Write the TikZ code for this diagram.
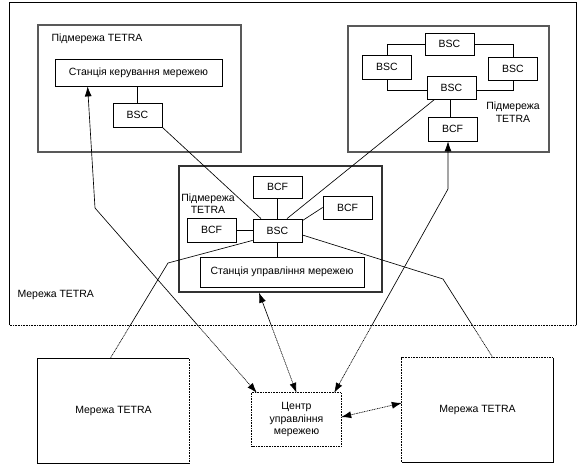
\documentclass[tikz,border=0pt]{standalone}
\usepackage{fontspec}
\setmainfont{Liberation Sans}
\usetikzlibrary{arrows.meta,calc}
\begin{document}
\begin{tikzpicture}[x=1pt,y=-1pt,
  font=\fontsize{10.5}{12.5}\selectfont,
  arr/.style={{Latex[length=10pt,width=7pt]}-{Latex[length=10pt,width=7pt]}},
  bx/.style={draw=black, line width=0.8pt, rectangle, inner sep=0pt},
  sbx/.style={bx, minimum width=49pt, minimum height=23pt},
  subnet/.style={draw=#1, line width=1.4pt, rectangle, inner sep=0pt},
  plain/.style={rectangle, inner sep=0pt},
  edge/.style={line width=0.8pt, black},
  dotedge/.style={line width=0.8pt, black, dash pattern=on 0.8pt off 0.8pt},
  wire/.style={line width=0.65pt, black},
  conn/.style={wire}
]
\useasboundingbox (0,0) rectangle (581,467);

% outer network
\node[plain, minimum width=566pt, minimum height=322pt] (outer) at (293,164) {};
\draw[edge] (outer.south west) -- (outer.north west) -- (outer.north east) -- (outer.south east);
\draw[dotedge] (outer.south west) -- (outer.south east);
\node[anchor=west] (outerlab) at (14,295) {Мережа TETRA};

% top-left subnet
\node[subnet=gray!70!black, minimum width=203pt, minimum height=127pt] (sub1) at (139.5,88.5) {};
\node[anchor=west] (sub1lab) at (48,39) {Підмережа TETRA};
\node[bx, minimum width=167pt, minimum height=27pt] (nsk) at (138.5,72.5) {Станція керування мережею};
\node[sbx, minimum height=24pt] (bsc1) at (137.5,115) {BSC};

% top-right subnet
\node[subnet=gray!70!black, minimum width=201pt, minimum height=126pt] (sub2) at (448.5,89) {};
\node[sbx, minimum height=22pt] (bscT) at (449.5,44) {BSC};
\node[sbx, minimum height=24pt] (bscL) at (387,67) {BSC};
\node[sbx] (bscR) at (513,68.5) {BSC};
\node[sbx] (bscM) at (451.5,87.5) {BSC};
\node[sbx, minimum height=24pt] (bcfT) at (452.5,129) {BCF};
\node[align=center, inner sep=0pt] (sub2lab) at (513,112) {Підмережа\\TETRA};

% central subnet
\node[subnet=black!80, minimum width=203pt, minimum height=126pt] (sub3) at (280.5,229) {};
\node[sbx, minimum height=22pt] (bcfC1) at (277.5,187) {BCF};
\node[sbx] (bcfC2) at (347.5,207.5) {BCF};
\node[sbx, minimum height=24pt] (bcfC3) at (211.5,230) {BCF};
\node[sbx] (bscC) at (277.5,230.5) {BSC};
\node[bx, minimum width=164pt, minimum height=30pt] (nsu) at (282,272) {Станція управління мережею};
\node[align=center, inner sep=0pt] (sub3lab) at (208,203.5) {Підмережа\\TETRA};

% bottom networks
\node[plain, minimum width=151pt, minimum height=104pt] (netL) at (113.5,411) {Мережа TETRA};
\draw[edge] (netL.north east) -- (netL.north west) -- (netL.south west) -- (netL.south east);
\draw[dotedge] (netL.north east) -- (netL.south east);

\node[plain, minimum width=89pt, minimum height=53pt, align=center] (ctr) at (296.5,419.5) {Центр\\управління\\мережею};
\draw[dotedge] (ctr.north west) rectangle (ctr.south east);

\node[plain, minimum width=151pt, minimum height=104pt] (netR) at (477.5,410) {Мережа TETRA};
\draw[edge] (netR.north east) -- (netR.south east) -- (netR.south west);
\draw[dotedge] (netR.south west) -- (netR.north west) -- (netR.north east);

% internal links
\draw[wire] (bsc1.north |- nsk.south) -- (bsc1.north);
\draw[wire] (bscT.west) -| (bscL.north);
\draw[wire] (bscT.east) -| (bscR.north);
\draw[wire] (bscL.south) |- ($(bscM.west)+(0,2.5)$);
\draw[wire] (bscR.south) |- ($(bscM.east)+(0,2.5)$);
\draw[wire] ([xshift=-1.5pt]bscM.south) -- ([xshift=-1.5pt]bscM.south |- bcfT.north);
\draw[wire] (bcfC1.south) -- (bscC.north);
\draw[wire] ([yshift=-2pt]bscC.north east) -- (bcfC2.west);
\draw[wire] (bcfC3.east) -- (bscC.west |- bcfC3.east);
\draw[wire] (bscC.south) -- (bscC.south |- nsu.north);
\draw[wire] (bsc1.south east) -- ([xshift=-16.5pt]bscC.north);
\draw[wire] ([xshift=8pt]bscM.south west) -- ([xshift=9.5pt]bscC.north);

% bends
\coordinate (k1) at (95,208);
\coordinate (k2) at (448,189);
\coordinate (k3) at (168,263);
\coordinate (k4) at (443,279);

\newcommand\longconns{%
  \draw[conn, arr] ([xshift=33pt]nsk.south west) -- (k1) -- ([xshift=5pt]ctr.north west);
  \draw[conn, arr] ([xshift=-4.5pt]bcfT.south) -- (k2) -- ([xshift=-7pt]ctr.north east);
  \draw[conn, arr] ([xshift=-21.5pt]sub3.south) -- (ctr.north);
  \draw[conn] ([yshift=2pt]bscC.south west) -- (k3) -- ([xshift=-3.5pt]netL.north);
  \draw[conn] ([yshift=-4.5pt]bscC.east) -- (k4) -- ([xshift=15.5pt]netR.north);
  \draw[conn, arr] ([yshift=2.5pt]ctr.east) -- ([yshift=7pt]netR.west);
}
\begin{scope}
  \clip (0,0) rectangle (581,325);
  \longconns
\end{scope}
\begin{scope}
  \clip (0,325) rectangle (581,467);
  \tikzset{conn/.style={wire, dash pattern=on 1pt off 0.7pt}}
  \longconns
\end{scope}
\end{tikzpicture}
\end{document}
